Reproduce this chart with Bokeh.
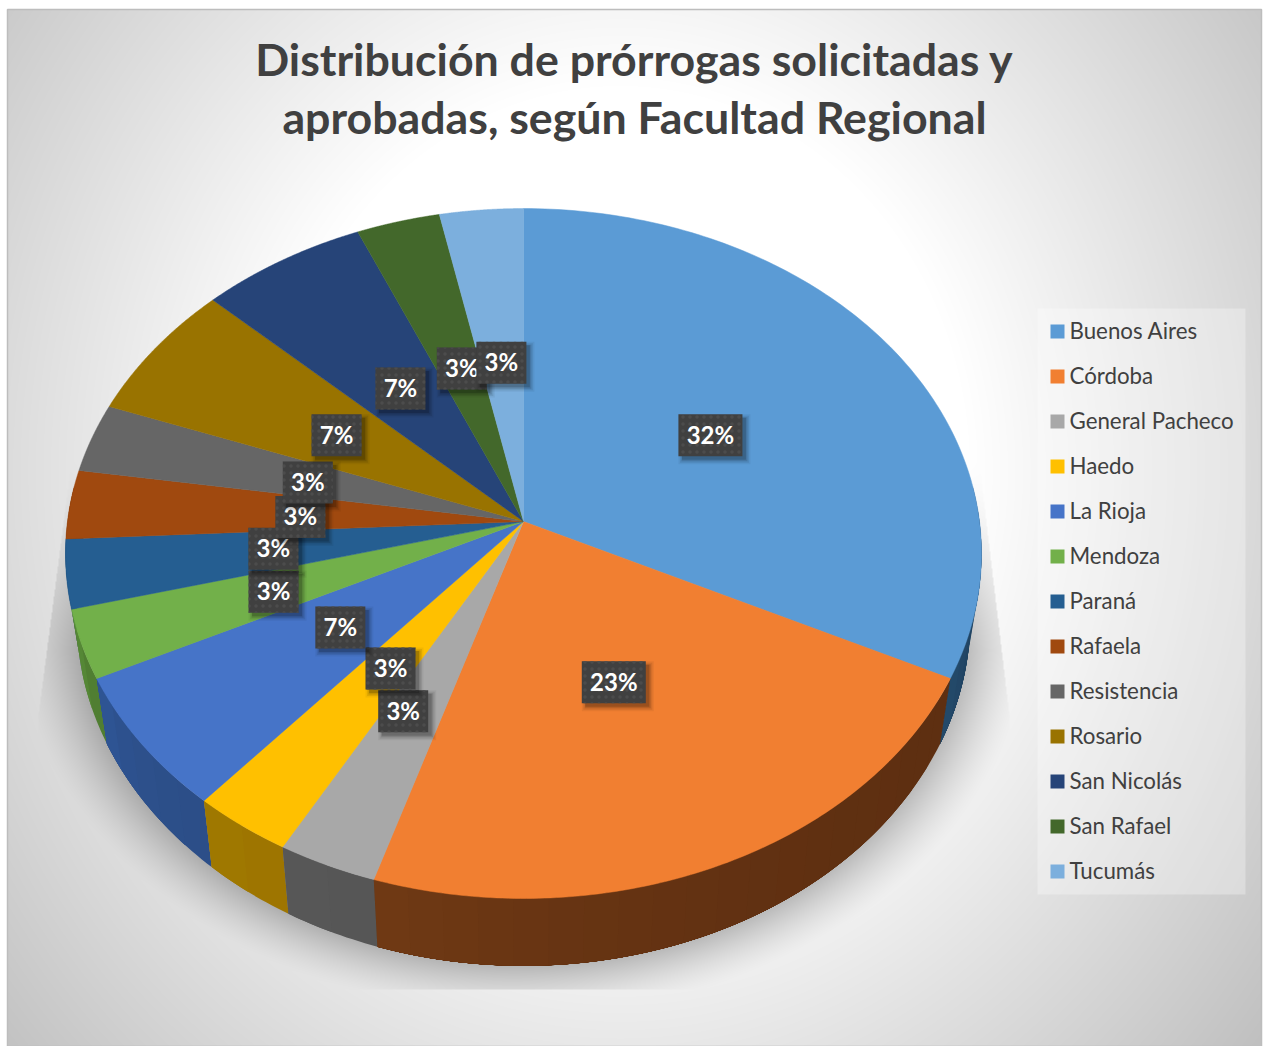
import numpy as np
from bokeh.plotting import figure
from bokeh.core.properties import value
from bokeh.embed import file_html
from bokeh.resources import INLINE

# ---------- data ----------
title_lines = ["Distribución de prórrogas solicitadas y", "aprobadas, según Facultad Regional"]
categories = ["Buenos Aires", "Córdoba", "General Pacheco", "Haedo", "La Rioja", "Mendoza", "Paraná",
              "Rafaela", "Resistencia", "Rosario", "San Nicolás", "San Rafael", "Tucumás"]
counts = [10, 7, 1, 1, 2, 1, 1, 1, 1, 2, 2, 1, 1]
labels = ["32%", "23%", "3%", "3%", "7%", "3%", "3%", "3%", "3%", "7%", "7%", "3%", "3%"]

# ---------- styles / layout ----------
colors = ["#5B9BD5", "#F17F31", "#A8A8A8", "#FFC000", "#4674C8", "#72B04A", "#255E91",
          "#A0490F", "#666666", "#997300", "#264478", "#43682B", "#7CAFDD"]
# wall colours: (end at the smaller angle, end at the larger angle)
wall_colors = [("#1D3F5C", "#244A6B"), ("#5E2F11", "#703914"), ("#565656", "#585858"),
               ("#9E7500", "#A07A00"), ("#2C4E88", "#2F5595"), ("#4F7D32", "#5A8F3A"),
               ("#1A4166", "#1A4166"), ("#6F330A", "#6F330A"), ("#454545", "#454545"),
               ("#6B5100", "#6B5100"), ("#1A2F54", "#1A2F54"), ("#2F491E", "#2F491E"),
               ("#567A9B", "#567A9B")]
# label offset from the half-way point of each slice's spoke, in px (x, y down)
label_nudge = [(2.5, 0), (-8, -11), (-22, 18), (8, -5), (8, -5), (-29, 9), (-21.5, 1),
               (3.5, 4), (0, 3), (-2.5, 0), (-2, -2.5), (1, -3), (-1, -3)]

W, H = 1264, 1046
X0, Y_BOTTOM = 0, 1046
CX, CY = 523.0, 521.0
R, B, K = 456.0, 342.0, 0.0928          # top face projection
CY2, R2, B2 = 585.0, 445.0, 345.0       # lower rim projection


def py(y):
    return Y_BOTTOM - np.asarray(y, dtype=float)


def rim(theta, cy=CY, r=R, b=B):
    u, v = np.sin(theta), np.cos(theta)
    d = 1 + K * v
    return CX + r * u / d, cy - b * v / d


p = figure(width=W, height=H, x_range=(X0, X0 + W), y_range=(0, H), output_backend="svg",
           toolbar_location=None, min_border=0, outline_line_color=None, background_fill_color="white",
           border_fill_color="white")
p.axis.visible = False
p.grid.visible = False

# ---------- background + soft shadow raster ----------
xs = X0 + np.arange(W) + 0.5
ys = Y_BOTTOM - (np.arange(H) + 0.5)       # row 0 is the bottom of the page
gx, gy = np.meshgrid(xs, ys)
r_bg = np.sqrt(((gx - 620) / 700) ** 2 + ((gy - 470) / 770) ** 2)
shade = 255 - 60 * np.clip((r_bg - 0.5) / 0.65, 0, 1.1)

ell_ry = B2 / (1 - K ** 2)
ell_rx = R2 / np.sqrt(1 - K ** 2)
ell_cy = CY2 + B2 * K / (1 - K ** 2)
dn = np.sqrt(((gx - CX) / ell_rx) ** 2 + ((gy - ell_cy) / ell_ry) ** 2) - 1
t = np.clip(dn / 0.14, 0, 1)
fade_in = np.clip((gy - 460) / 190, 0, 1)
alpha = 0.24 * (1 - t) ** 1.4 * fade_in
left_edge = np.where(gy < 715, 38 + (715 - gy) * (32 / 245), 38)
right_edge = np.where(gy < 715, 1009 - (715 - gy) * (28 / 235), 1009)
box = (gx >= left_edge) & (gx <= right_edge) & (gy <= 989) & (gy >= 460)
shade = np.where(box, shade * (1 - alpha), shade)
outside = (gx > 1261) | (gy < 9) | (gx < 7)
shade = np.where(outside, 255, shade)
g = np.clip(shade, 0, 255).astype(np.uint32)
img = (255 << 24) | (g << 16) | (g << 8) | g
p.image_rgba(image=[img.astype(np.uint32)], x=X0, y=0, dw=W, dh=H)

p.quad(left=[7], right=[1261], top=py([9]), bottom=py([1046]), fill_color=None,
       line_color="#BDBDBD", line_width=1.5)

# ---------- slices ----------
total = sum(counts)
edges = np.cumsum([0] + counts) / total * 2 * np.pi


def blend(c1, c2, f):
    a = np.array([int(c1[i:i + 2], 16) for i in (1, 3, 5)])
    b = np.array([int(c2[i:i + 2], 16) for i in (1, 3, 5)])
    m = (a + (b - a) * f).round().astype(int)
    return "#%02x%02x%02x" % tuple(m)


lo_lim, hi_lim = np.radians(84), np.radians(276)
order = sorted(range(len(counts)), key=lambda q: -abs((edges[q] + edges[q + 1]) / 2 - np.pi))
for i in order:
    a0, a1 = max(edges[i], lo_lim), min(edges[i + 1], hi_lim)
    if a1 <= a0:
        continue
    n = max(1, int((a1 - a0) / np.radians(4)))
    steps = np.linspace(a0, a1, n + 1)
    for j in range(n):
        # each piece runs on to the slice's far end so that the next one paints over it: no seams
        arc = np.linspace(steps[j], a1, 8 + 4 * (n - j))
        tx, ty = rim(arc)
        bx, by = rim(arc[::-1], CY2, R2, B2)
        col = blend(wall_colors[i][0], wall_colors[i][1], ((j + 0.5) / n) ** 2)
        p.patch(np.r_[tx, bx], py(np.r_[ty, by]), fill_color=col, line_color=None)

for i in range(len(counts)):
    arc = np.linspace(edges[i], edges[i + 1], 120)
    x, y = rim(arc)
    p.patch(np.r_[CX, x], py(np.r_[CY, y]), fill_color=colors[i], line_color=colors[i], line_width=0.5)

# ---------- data labels ----------
mids = (edges[:-1] + edges[1:]) / 2
mx, my = rim(mids)
lx = CX + (mx - CX) / 2 + np.array([n[0] for n in label_nudge])
ly = CY + (my - CY) / 2 + np.array([n[1] for n in label_nudge])
box_w = np.array([64 if s in ("32%", "23%") else 50 for s in labels], float)
box_h = 42.0
for i in range(len(labels)):
    for off, grow, a in [(4, 8, 0.05), (4, 5, 0.08), (4, 2, 0.12), (3.5, 0, 0.16)]:
        p.quad(left=[lx[i] - box_w[i] / 2 + off - grow / 2], right=[lx[i] + box_w[i] / 2 + off + grow / 2],
               top=py([ly[i] - box_h / 2 + off - grow / 2]), bottom=py([ly[i] + box_h / 2 + off + grow / 2]),
               fill_color="black", fill_alpha=a, line_color=None)
    p.quad(left=[lx[i] - box_w[i] / 2], right=[lx[i] + box_w[i] / 2],
           top=py([ly[i] - box_h / 2]), bottom=py([ly[i] + box_h / 2]),
           fill_color="#404040", line_color=None, hatch_pattern="dot", hatch_color="#4C4C4C",
           hatch_scale=7, hatch_weight=1.2)
    p.text(x=[lx[i]], y=py([ly[i] - 1]), text=[labels[i]], text_color="white", text_font=value("Lato"),
           text_font_style="bold", text_font_size="24px", text_align="center", text_baseline="middle")

# ---------- title ----------
p.text(x=[634, 634], y=py([58, 116]), text=title_lines, text_color="#404040", text_font=value("Lato"),
       text_font_style="bold", text_font_size="44.7px", text_align="center", text_baseline="middle")

# ---------- legend ----------
p.quad(left=[1037], right=[1245], top=py([308]), bottom=py([894]), fill_color="white", fill_alpha=0.3,
       line_color=None)
ly0 = 331 + 45 * np.arange(len(categories))
p.quad(left=np.full(len(categories), 1050.0), right=np.full(len(categories), 1064.0),
       top=py(ly0 - 7), bottom=py(ly0 + 7), fill_color=colors, line_color=None)
p.text(x=np.full(len(categories), 1069.0), y=py(ly0 - 1), text=categories, text_color="#404040",
       text_font=value("Lato"), text_font_size="22.3px", text_align="left", text_baseline="middle")

open("out.html", "w").write(file_html(p, INLINE))
